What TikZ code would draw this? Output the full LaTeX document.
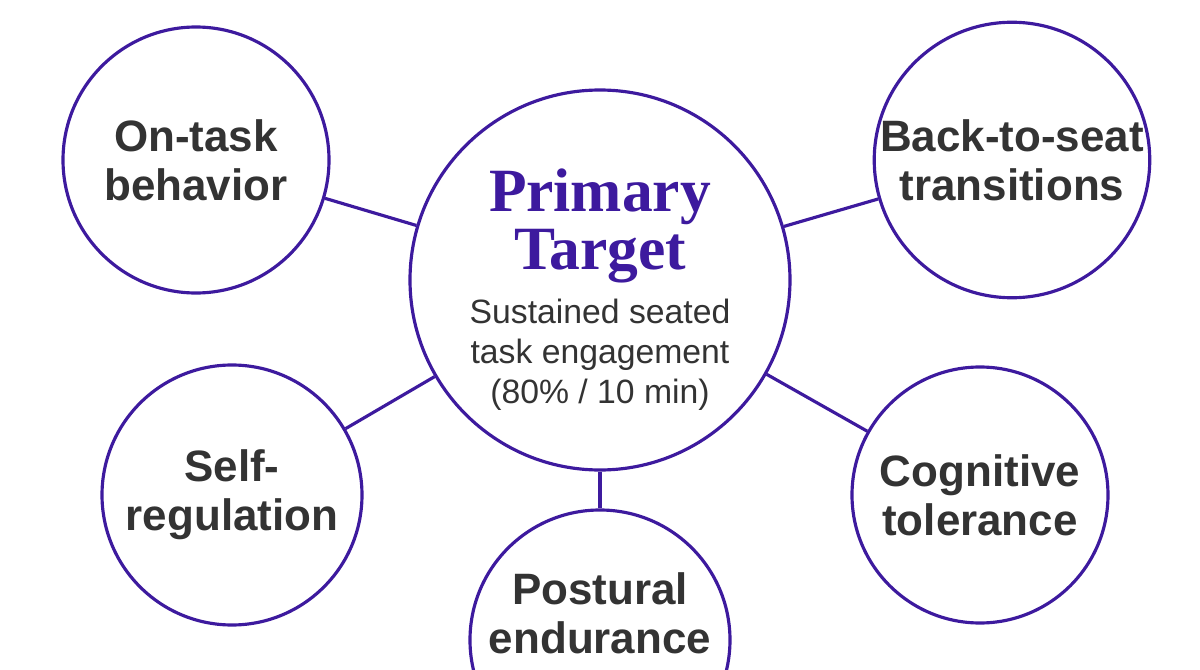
\documentclass[tikz,border=0pt]{standalone}
\usepackage{fontspec}
\setmainfont{Liberation Sans}
\newfontfamily\headfont{Liberation Serif}
\definecolor{ringpurple}{HTML}{3D1A9E}
\definecolor{labelgray}{HTML}{333333}
\tikzset{
  ring/.style={circle, draw=ringpurple, line width=0.9pt, fill=white, inner sep=0pt,
    align=center, text=labelgray, font=\fontsize{12.5}{14}\selectfont\bfseries},
  link/.style={draw=ringpurple, line width=0.9pt}
}
\begin{document}
\begin{tikzpicture}
\useasboundingbox (0,0) rectangle (12,6.69);
\clip (0,0) rectangle (12,6.69);
\node[ring, minimum size=3.8cm] (main) at (6,3.89) {};
\node[align=center, text=ringpurple, font=\headfont\fontsize{17.5}{16.5}\selectfont\bfseries] (title) at (6,4.43) {Primary\\Target};
\node[align=center, text=labelgray, font=\fontsize{9.6}{11.4}\selectfont] (sub) at (6,3.14) {Sustained seated\\task engagement\\(80\% / 10 min)};
\node[ring, minimum size=2.66cm] (ontask) at (1.96,5.09) {On-task\\behavior};
\node[ring, minimum size=2.7cm] (seat) at (10.12,5.09) {Back-to-seat\\transitions};
\node[ring, minimum size=2.6cm] (selfreg) at (2.32,1.74) {Self-\\regulation};
\node[ring, minimum size=2.56cm] (cogn) at (9.80,1.74) {Cognitive\\tolerance};
\node[ring, minimum size=2.6cm] (post) at (6,0.29) {};
\node[align=center, text=labelgray, font=\fontsize{12.5}{14}\selectfont\bfseries] (postlabel) at (6,0.56) {Postural\\endurance};
\foreach \s in {ontask,seat,selfreg,cogn,post}
  \draw[link] (main) -- (\s);
\end{tikzpicture}
\end{document}
